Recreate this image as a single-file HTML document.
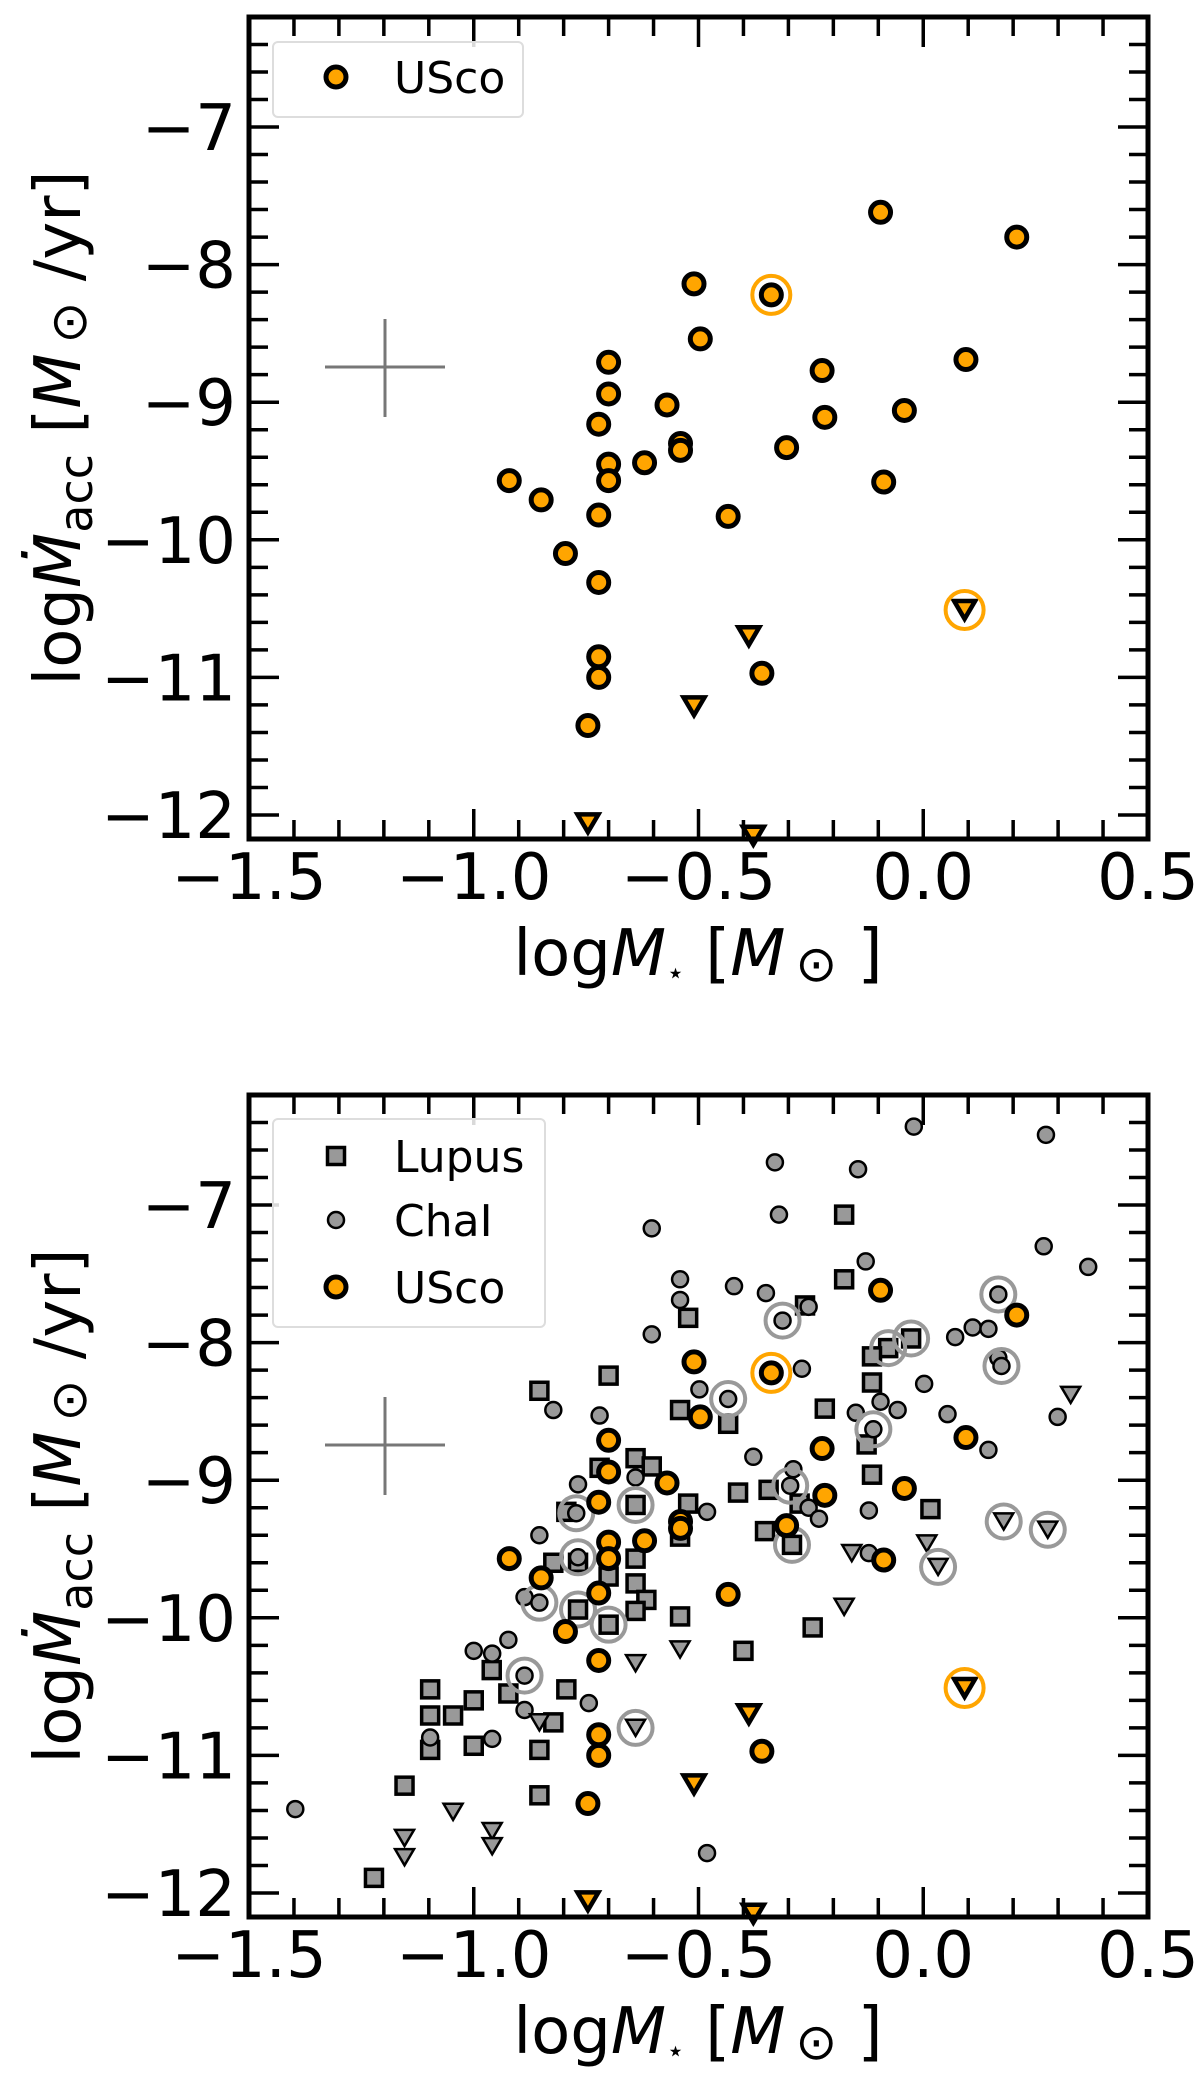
<!DOCTYPE html>
<html><head><meta charset="utf-8"><style>
html,body{margin:0;padding:0;background:#fff;}
svg{display:block;}
text{font-family:"DejaVu Sans","Liberation Sans",sans-serif;fill:#000;}
</style></head><body>
<svg id="fig" width="1200" height="2084" viewBox="0 0 1200 2084" xmlns="http://www.w3.org/2000/svg"></svg>
<script>
// ---------- data ----------
const xTickLabels = ["\u22121.5","\u22121.0","\u22120.5","0.0","0.5"];
const xTickValues = [-1.5,-1.0,-0.5,0.0,0.5];
const yTickLabels = ["\u22127","\u22128","\u22129","\u221210","\u221211","\u221212"];
const yTickValues = [-7,-8,-9,-10,-11,-12];

const uscoX = [-0.095,0.208,-0.51,-0.338,-0.496,-0.70,-0.225,0.095,-0.70,-0.57,-0.722,-0.219,-0.042,-0.54,-0.54,-0.304,-0.62,-0.70,-0.70,-0.921,-0.088,-0.85,-0.722,-0.434,-0.796,-0.722,-0.722,-0.722,-0.359,-0.746];
const uscoY = [-7.62,-7.80,-8.14,-8.22,-8.54,-8.71,-8.77,-8.69,-8.94,-9.02,-9.16,-9.11,-9.06,-9.30,-9.35,-9.33,-9.44,-9.45,-9.57,-9.57,-9.58,-9.71,-9.82,-9.83,-10.10,-10.31,-10.85,-11.00,-10.97,-11.35];
const uscoUlX = [0.092,-0.388,-0.51,-0.746,-0.378];
const uscoUlY = [-10.51,-10.70,-11.21,-12.06,-12.15];
const uscoRingX = [-0.338,0.092];
const uscoRingY = [-8.22,-10.51];

const lupusX = [-0.176,-0.176,-0.523,-0.263,-0.078,-0.027,-0.114,-0.114,-0.70,-0.854,-0.541,-0.434,-0.219,-0.126,-0.64,-0.604,-0.72,-0.114,-0.412,-0.344,-0.275,-0.794,-0.64,-0.523,-0.541,-0.352,-0.292,0.016,-0.823,-0.768,-0.64,-0.70,-0.64,-0.616,-0.64,-0.768,-0.70,-0.541,-0.246,-0.40,-0.96,-0.923,-0.794,-0.823,-1.097,-1.097,-1.046,-1.0,-1.097,-1.0,-0.854,-1.154,-0.854,-1.222];
const lupusY = [-7.07,-7.54,-7.82,-7.73,-8.04,-7.97,-8.10,-8.29,-8.24,-8.35,-8.49,-8.59,-8.48,-8.74,-8.84,-8.90,-8.91,-8.96,-9.09,-9.07,-9.17,-9.23,-9.18,-9.17,-9.41,-9.37,-9.47,-9.21,-9.60,-9.60,-9.57,-9.70,-9.75,-9.87,-9.95,-9.94,-10.05,-9.99,-10.07,-10.24,-10.38,-10.55,-10.52,-10.76,-10.52,-10.71,-10.71,-10.60,-10.96,-10.93,-10.96,-11.22,-11.29,-11.89];
const chaX = [-0.021,0.273,-0.330,-0.145,-0.321,-0.604,0.268,-0.128,0.367,-0.541,-0.421,-0.35,-0.541,-0.255,-0.313,-0.604,0.071,0.110,0.145,0.167,-0.27,0.002,-0.498,-0.434,-0.15,-0.095,-0.057,0.054,0.299,0.145,-0.72,-0.823,-0.378,-0.289,-0.64,-0.768,-0.481,-0.255,-0.232,-0.121,-0.854,-0.768,-0.121,-0.887,-0.923,-1.0,-0.959,-0.887,-0.744,-0.959,-1.097,-1.397,-0.481,-0.296,-0.111,0.174,0.167,-0.887,-0.854,-0.772];
const chaY = [-6.43,-6.49,-6.69,-6.74,-7.07,-7.17,-7.30,-7.41,-7.45,-7.54,-7.59,-7.64,-7.69,-7.74,-7.84,-7.94,-7.96,-7.89,-7.90,-8.11,-8.19,-8.30,-8.34,-8.41,-8.51,-8.43,-8.49,-8.52,-8.54,-8.78,-8.53,-8.49,-8.83,-8.92,-8.98,-9.03,-9.23,-9.20,-9.28,-9.22,-9.40,-9.56,-9.53,-9.85,-10.16,-10.24,-10.26,-10.67,-10.62,-10.88,-10.87,-11.39,-11.71,-9.04,-8.63,-8.17,-7.65,-10.42,-9.89,-9.24];
const chaUlX = [0.328,-0.159,0.008,-0.176,-0.541,-0.64,-0.854,-1.046,-1.154,-1.154,-0.959,-0.959,0.179,0.277,0.033,-0.64];
const chaUlY = [-8.38,-9.53,-9.46,-9.92,-10.23,-10.33,-10.76,-11.41,-11.60,-11.74,-11.55,-11.66,-9.30,-9.36,-9.63,-10.80];
const grayRingX = [-0.313,-0.434,-0.111,-0.078,-0.027,0.167,0.174,-0.292,-0.296,-0.64,-0.772,-0.768,-0.854,-0.768,-0.70,-0.887,-0.64,0.179,0.277,0.033];
const grayRingY = [-7.84,-8.41,-8.63,-8.04,-7.97,-7.65,-8.17,-9.47,-9.04,-9.18,-9.24,-9.56,-9.89,-9.94,-10.05,-10.42,-10.80,-9.30,-9.36,-9.63];

// ---------- layout ----------
const NS="http://www.w3.org/2000/svg";
const fig=document.getElementById('fig');
const L=249,R=1148,T0=17,B0=839;
function sx(v){return L+(v+1.5)*(R-L)/2.0;}
function syF(off){return v=>off+127+(-7-v)*137.6;}
function mk(tag,attrs,parent){const e=document.createElementNS(NS,tag);for(const k in attrs)e.setAttribute(k,attrs[k]);(parent||fig).appendChild(e);return e;}

function circle(g,x,y,r,fill,stroke,sw,name){
  const e=mk('circle',{cx:x,cy:y,r:r,fill:fill,stroke:stroke,'stroke-width':sw},g);
  
  
  return e;
}
function square(g,x,y,s,name){
  const e=mk('rect',{x:x-s/2,y:y-s/2,width:s,height:s,fill:'#999',stroke:'#000','stroke-width':3.5},g);
  
  
}
function tri(g,x,y,w,fill,sw,name){
  const h=w*0.85;
  const e=mk('polygon',{points:`${x-w/2},${y-h/2} ${x+w/2},${y-h/2} ${x},${y+h/2}`,fill:fill,stroke:'#000','stroke-width':sw,'stroke-linejoin':'miter'},g);
  
  
}

function panel(off,full,pname){
  const sy=syF(off);
  const T=T0+off,B=B0+off;
  const g=mk('g',{});
  
  
  const ec=mk('g',{stroke:'#777','stroke-width':3},g);
  
  
  mk('line',{x1:325,x2:445,y1:367+off,y2:367+off},ec);
  mk('line',{x1:385,x2:385,y1:319+off,y2:417+off},ec);
  const dg=mk('g',{},g);
  
  
  if(full){
    for(let i=0;i<lupusX.length;i++) square(dg,sx(lupusX[i]),sy(lupusY[i]),17,'lupus-point');
    for(let i=0;i<chaX.length;i++) circle(dg,sx(chaX[i]),sy(chaY[i]),8,'#999','#000',2.5,'chai-point');
    for(let i=0;i<chaUlX.length;i++) tri(dg,sx(chaUlX[i]),sy(chaUlY[i]),19,'#999',2.5,'chai-upper-limit');
    for(let i=0;i<grayRingX.length;i++) circle(dg,sx(grayRingX[i]),sy(grayRingY[i]),17,'none','#999',4,'chai-highlight-ring');
  }
  for(let i=0;i<uscoX.length;i++) circle(dg,sx(uscoX[i]),sy(uscoY[i]),10,'#FFA500','#000',5,'usco-point');
  for(let i=0;i<uscoUlX.length;i++) tri(dg,sx(uscoUlX[i]),sy(uscoUlY[i]),21,'#FFA500',4.5,'usco-upper-limit');
  for(let i=0;i<uscoRingX.length;i++) circle(dg,sx(uscoRingX[i]),sy(uscoRingY[i]),19,'none','#FFA500',4,'usco-highlight-ring');
  const tg=mk('g',{stroke:'#000','stroke-width':3.5},g);
  
  
  for(let k=0;k<=20;k++){
    const v=-1.5+k*0.1;const x=sx(v);const len=(k%5===0)?30:19;
    mk('line',{x1:x,x2:x,y1:B,y2:B-len},tg);
    mk('line',{x1:x,x2:x,y1:T,y2:T+len},tg);
  }
  for(let k=0;k<=30;k++){
    const v=-12.2+k*0.2;const y=sy(v);if(y<T-1||y>B+1)continue;
    const major=Math.abs(v-Math.round(v))<1e-6;const len=major?30:19;
    mk('line',{x1:L,x2:L+len,y1:y,y2:y},tg);
    mk('line',{x1:R,x2:R-len,y1:y,y2:y},tg);
  }
  const fr=mk('rect',{x:L,y:T,width:R-L,height:B-T,fill:'none',stroke:'#000','stroke-width':5},g);
  
  
  for(let i=0;i<xTickValues.length;i++){
    const t=mk('text',{x:sx(xTickValues[i]),y:B+60,'text-anchor':'middle','font-size':64},g);
    t.textContent=xTickLabels[i];
    
    
  }
  for(let i=0;i<yTickValues.length;i++){
    const t=mk('text',{x:236,y:sy(yTickValues[i])+23,'text-anchor':'end','font-size':64},g);
    t.textContent=yTickLabels[i];
    
    
  }
  const xl=mk('text',{x:698,y:975+off,'text-anchor':'middle','font-size':64},g);
  
  
  xl.innerHTML='log<tspan font-style="italic">M</tspan><tspan font-size="30" dy="8">\u22C6</tspan><tspan dy="-8"> [</tspan><tspan font-style="italic">M</tspan><tspan font-size="50" dy="6">\u2009\u2299</tspan><tspan dy="-6"> ]</tspan>';
  const yl=mk('text',{x:0,y:0,'text-anchor':'middle','font-size':64,transform:`translate(80,${(T+B)/2}) rotate(-90)`},g);
  
  
  yl.innerHTML='log<tspan font-style="italic">\u1E40</tspan><tspan font-size="46" dy="12">acc</tspan><tspan dy="-12"> [</tspan><tspan font-style="italic">M</tspan><tspan font-size="50" dy="6">\u2009\u2299</tspan><tspan dy="-6"> /yr]</tspan>';
  return {g,off};
}

const p1=panel(0,false,'top-panel');
const p2=panel(1078,true,'bottom-panel');

function legend(g,x,y,w,h,entries,name){
  const lg=mk('g',{},g);
  
  
  mk('rect',{x:x,y:y,width:w,height:h,rx:5,fill:'#fff','fill-opacity':0.85,stroke:'#ddd','stroke-width':2},lg);
  entries.forEach(en=>{
    if(en.type==='sq') square(lg,336,en.y,17,'legend-marker-lupus');
    else if(en.type==='ch') circle(lg,336,en.y,8,'#999','#000',2.5,'legend-marker-chai');
    else circle(lg,336,en.y,10,'#FFA500','#000',5,'legend-marker-usco');
    const t=mk('text',{x:394,y:en.y+16,'font-size':44},lg);
    t.textContent=en.label;
    
    
  });
}
legend(p1.g,273,42,250,75,[{type:'us',y:77,label:'USco'}],'legend-top');
legend(p2.g,273,1119,272,208,[{type:'sq',y:1156,label:'Lupus'},{type:'ch',y:1220,label:'ChaI'},{type:'us',y:1287,label:'USco'}],'legend-bottom');
</script>
</body></html>
